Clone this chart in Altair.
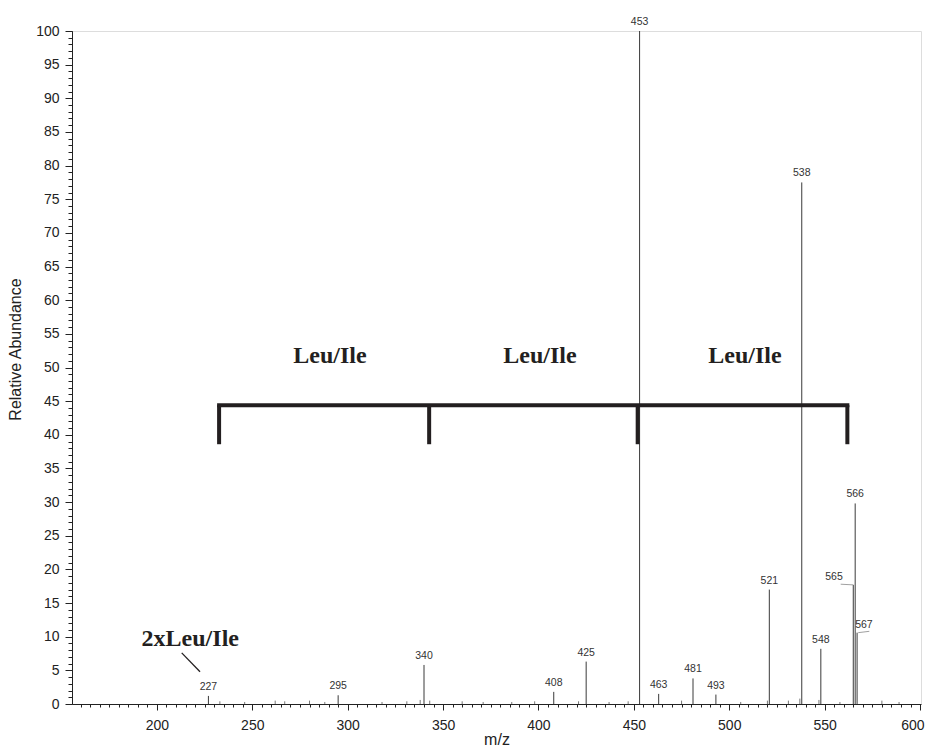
import altair as alt
import pandas as pd

# ---- data ----
peak_mz = [227, 295, 340, 408, 425, 453, 463, 481, 493, 521, 538, 548, 565, 566, 567]
peak_ab = [1.2, 1.3, 5.8, 1.8, 6.3, 100.0, 1.5, 3.8, 1.4, 17.0, 77.5, 8.2, 17.7, 29.8, 10.6]

# peaks whose labels sit directly above the line
top_label_mz = [227, 295, 340, 408, 425, 453, 463, 481, 493, 521, 538, 548, 566]
top_label_ab = [1.2, 1.3, 5.8, 1.8, 6.3, 100.0, 1.5, 3.8, 1.4, 17.0, 77.5, 8.2, 29.8]

# peaks with a callout label (label placed beside, with a leader)
callout_text = ["565", "567"]
callout_mz = [554.9, 570.6]
callout_ab = [18.9, 11.7]
leader_mz1 = [558.4, 567.6]
leader_mz2 = [565.0, 573.4]
leader_ab1 = [17.8, 10.6]
leader_ab2 = [17.7, 10.8]

# small baseline noise peaks
noise_mz = [233, 246, 262, 267, 280, 288, 318, 331, 338, 343, 360, 371, 386, 398, 421,
            437, 447, 475, 506, 520, 531, 537, 547, 558, 580, 589]
noise_ab = [0.4, 0.3, 0.5, 0.4, 0.5, 0.3, 0.3, 0.4, 0.6, 0.5, 0.4, 0.3, 0.3, 0.4, 0.4,
            0.3, 0.4, 0.5, 0.3, 0.5, 0.5, 0.8, 0.6, 0.3, 0.5, 0.3]

# Leu/Ile bracket (m/z positions of the bracket legs)
bracket_mz = [232.6, 342.7, 452.0, 561.9]
bracket_top = 44.4
bracket_bottom = 38.6
residue_text = ["Leu/Ile", "Leu/Ile", "Leu/Ile"]
residue_mz = [290.7, 400.8, 508.2]
residue_ab = [51.7, 51.7, 51.7]

di_text = ["2xLeu/Ile"]
di_mz = [217.5]
di_ab = [9.7]
di_line_mz1 = [213.0]
di_line_mz2 = [222.6]
di_line_ab1 = [7.6]
di_line_ab2 = [4.8]

x_major = [200, 250, 300, 350, 400, 450, 500, 550, 600]
x_minor = list(range(160, 601, 5))
y_major = list(range(0, 101, 5))
y_minor = list(range(0, 101, 1))

# ---- tables ----
peaks = pd.DataFrame({"mz": peak_mz, "ab": peak_ab})
tops = pd.DataFrame({"mz": top_label_mz, "ab": top_label_ab, "t": [str(m) for m in top_label_mz]})
callouts = pd.DataFrame({"mz": callout_mz, "ab": callout_ab, "t": callout_text})
leaders = pd.DataFrame({"x1": leader_mz1, "x2": leader_mz2, "y1": leader_ab1, "y2": leader_ab2})
noise = pd.DataFrame({"mz": noise_mz, "ab": noise_ab})
legs = pd.DataFrame({"mz": bracket_mz, "top": [bracket_top] * 4, "bot": [bracket_bottom] * 4})
bar = pd.DataFrame({"x1": [bracket_mz[0]], "x2": [bracket_mz[-1]], "y": [bracket_top]})
residues = pd.DataFrame({"mz": residue_mz, "ab": residue_ab, "t": residue_text})
di = pd.DataFrame({"mz": di_mz, "ab": di_ab, "t": di_text})
di_line = pd.DataFrame({"x1": di_line_mz1, "x2": di_line_mz2, "y1": di_line_ab1, "y2": di_line_ab2})

xs = alt.Scale(domain=[155.5, 600.5], nice=False, zero=False)
ys = alt.Scale(domain=[0, 100], nice=False)

FONT = "Liberation Sans"
SERIF = "Liberation Serif"

x_axis = alt.Axis(values=x_major, tickSize=6, labelFontSize=14, labelFont=FONT, labelColor="#222",
                  labelPadding=8, title="m/z", titleFont=FONT, titleFontSize=16,
                  titleFontWeight="normal", titleColor="#222", titleY=40,
                  titleBaseline="alphabetic", grid=False,
                  orient="bottom", domainColor="#222", tickColor="#222",
                  labelFlush=3, labelFlushOffset=4)
y_axis = alt.Axis(values=y_major, tickSize=7, labelFontSize=14, labelFont=FONT, labelColor="#222",
                  labelPadding=6, title="Relative Abundance", titleFont=FONT, titleFontSize=16,
                  titleFontWeight="normal", titleColor="#222", titlePadding=12, grid=False,
                  orient="left", domainColor="#222", tickColor="#222", titleY=318)
x_axis_minor = alt.Axis(values=x_minor, tickSize=3, labels=False, domain=False, title=None,
                        grid=False, orient="bottom", tickColor="#222")
y_axis_minor = alt.Axis(values=y_minor, tickSize=4, labels=False, domain=False, title=None,
                        grid=False, orient="left", tickColor="#222")


def X(field):
    return alt.X(field, scale=xs, axis=None)


def Y(field):
    return alt.Y(field, scale=ys, axis=None)


peak_layer = alt.Chart(peaks).mark_rule(color="#3a3a3a", strokeWidth=1).encode(
    x=alt.X("mz:Q", scale=xs, axis=x_axis),
    y=alt.Y("ab:Q", scale=ys, axis=y_axis),
    y2=alt.datum(0),
)

noise_layer = alt.Chart(noise).mark_rule(color="#555", strokeWidth=0.8).encode(
    x=alt.X("mz:Q", scale=xs, axis=x_axis_minor),
    y=alt.Y("ab:Q", scale=ys, axis=y_axis_minor),
    y2=alt.datum(0),
)

top_text = alt.Chart(tops).mark_text(baseline="bottom", dy=-4, fontSize=10.5, font=FONT, color="#333").encode(
    x=X("mz:Q"), y=Y("ab:Q"), text="t:N")

call_text = alt.Chart(callouts).mark_text(baseline="middle", fontSize=10.5, font=FONT, color="#333").encode(
    x=X("mz:Q"), y=Y("ab:Q"), text="t:N")

leader_layer = alt.Chart(leaders).mark_rule(color="#888", strokeWidth=0.8).encode(
    x=X("x1:Q"), x2="x2:Q", y=Y("y1:Q"), y2="y2:Q")

legs_layer = alt.Chart(legs).mark_rule(color="#231f20", strokeWidth=4).encode(
    x=X("mz:Q"), y=Y("top:Q"), y2="bot:Q")

bar_layer = alt.Chart(bar).mark_rule(color="#231f20", strokeWidth=4, strokeCap="square").encode(
    x=X("x1:Q"), x2="x2:Q", y=Y("y:Q"))

res_text = alt.Chart(residues).mark_text(fontSize=24, font=SERIF, fontWeight="bold", color="#231f20",
                                         baseline="middle").encode(
    x=X("mz:Q"), y=Y("ab:Q"), text="t:N")

di_text_layer = alt.Chart(di).mark_text(fontSize=24, font=SERIF, fontWeight="bold", color="#231f20",
                                        baseline="middle").encode(
    x=X("mz:Q"), y=Y("ab:Q"), text="t:N")

di_line_layer = alt.Chart(di_line).mark_rule(color="#231f20", strokeWidth=1.3).encode(
    x=X("x1:Q"), x2="x2:Q", y=Y("y1:Q"), y2="y2:Q")

chart = alt.layer(
    peak_layer, noise_layer, legs_layer, bar_layer, top_text, call_text, leader_layer,
    res_text, di_text_layer, di_line_layer,
).resolve_axis(x="independent", y="independent").properties(
    width=849, height=673,
    autosize=alt.AutoSizeParams(type="none"),
    padding={"left": 64, "top": 23, "right": 4, "bottom": 42},
).configure_view(stroke=None).configure(background="white")

chart.save("out.html", embed_options={"renderer": "svg", "actions": False})
